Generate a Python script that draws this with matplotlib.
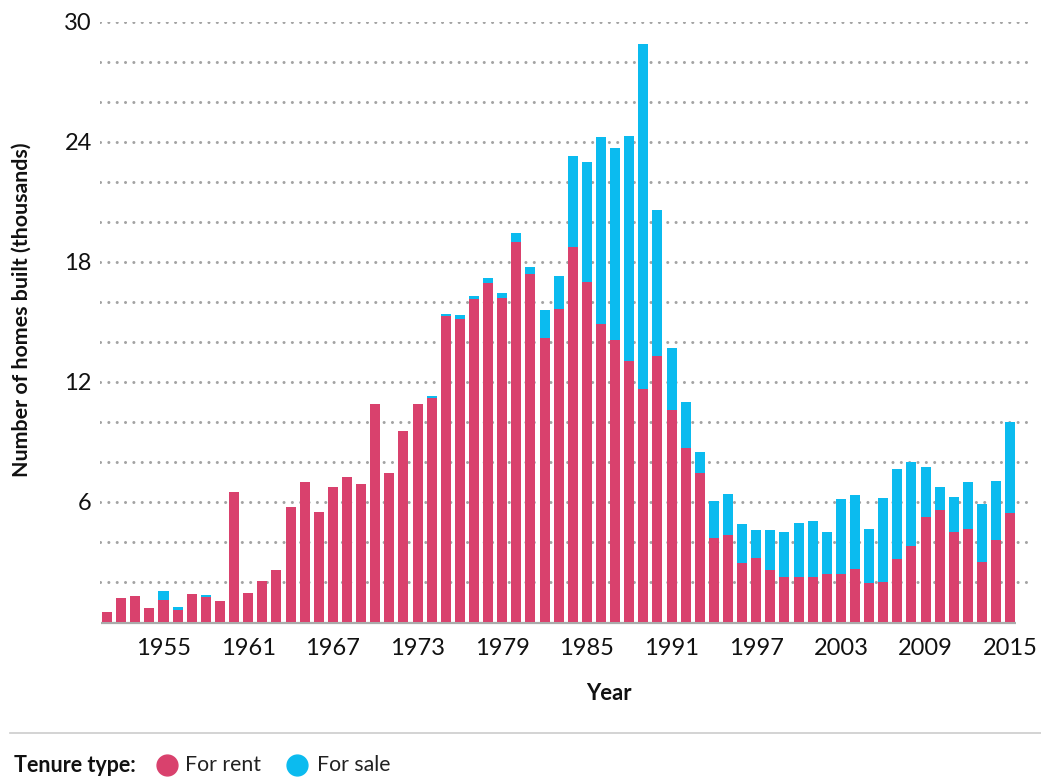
import numpy as np
import matplotlib.pyplot as plt
from matplotlib.lines import Line2D

plt.rcParams["font.family"] = ["Lato", "DejaVu Sans"]

years = np.arange(1951, 2016)

for_rent = [
    0.5, 1.2, 1.3, 0.7, 1.1, 0.6, 1.4, 1.25, 1.05, 6.5,
    1.45, 2.05, 2.6, 5.75, 7.0, 5.5, 6.75, 7.25, 6.9, 10.9,
    7.45, 9.55, 10.9, 11.2, 15.3, 15.15, 16.15, 16.95, 16.2, 19.0,
    17.4, 14.2, 15.65, 18.75, 17.0, 14.9, 14.1, 13.05, 11.65, 13.3,
    10.6, 8.7, 7.45, 4.2, 4.35, 2.95, 3.2, 2.6, 2.25, 2.25,
    2.25, 2.4, 2.4, 2.65, 1.95, 2.0, 3.15, 3.8, 5.25, 5.6,
    4.5, 4.65, 3.0, 4.1, 5.45,
]

for_sale = [
    0, 0, 0, 0, 0.45, 0.12, 0, 0.1, 0, 0,
    0, 0, 0, 0, 0, 0, 0, 0, 0, 0,
    0, 0, 0, 0.1, 0.1, 0.2, 0.15, 0.25, 0.25, 0.45,
    0.35, 1.4, 1.65, 4.55, 6.0, 9.35, 9.6, 11.25, 17.25, 7.3,
    3.1, 2.3, 1.05, 1.85, 2.05, 1.95, 1.4, 2.0, 2.25, 2.7,
    2.8, 2.1, 3.75, 3.7, 2.7, 4.2, 4.5, 4.2, 2.5, 1.15,
    1.75, 2.35, 2.9, 2.95, 4.55,
]

tick_years = list(range(1955, 2016, 6))
y_ticks = [6, 12, 18, 24, 30]

pink = "#D9416D"
blue = "#0BBBEF"

W, H = 1041, 778
fig = plt.figure(figsize=(W / 100, H / 100), dpi=100)
ax = fig.add_axes([100 / W, (H - 621.7) / H, 930 / W, 600 / H])

# dotted grid every 2k
for g in range(2, 31, 2):
    ax.axhline(g, color="#a3a3a3", lw=2.2, ls=(0, (0.01, 2.72)), zorder=0,
               dash_capstyle="round")

ax.bar(years, for_rent, width=0.71, color=pink, zorder=2)
ax.bar(years, for_sale, width=0.71, bottom=for_rent, color=blue, zorder=2)
ax.plot([years[0] - 0.4, years[-1] + 0.4], [-0.07, -0.07], color="#aaaaaa",
        lw=1.6, zorder=1, clip_on=False, solid_capstyle="butt")

ax.set_xlim(1950.5, 2016.4)
ax.set_ylim(0, 30)
ax.set_xticks(tick_years)
ax.set_yticks(y_ticks)
ax.tick_params(axis="x", length=0, pad=12, labelsize=17, labelcolor="#111111")
ax.tick_params(axis="y", length=0, pad=6, labelsize=17, labelcolor="#111111")
for s in ax.spines.values():
    s.set_visible(False)

fig.text(609 / W, 1 - 694 / H, "Year", ha="center", va="center",
         fontsize=15.8, fontweight="bold", color="#111111")
fig.text(22 / W, 1 - 310 / H, "Number of homes built (thousands)",
         rotation=90, ha="center", va="center", fontsize=15.4,
         fontweight="bold", color="#111111")

# legend strip
fig.add_artist(Line2D([10 / W, 1], [1 - 733 / H, 1 - 733 / H],
                      color="#cccccc", lw=1.2))
ly = 1 - 765 / H
fig.text(14 / W, ly, "Tenure type:", ha="left", va="center", fontsize=15.5,
         fontweight="bold", color="#111111")
fig.add_artist(Line2D([167 / W], [ly], marker="o", ms=15, color=pink, lw=0))
fig.text(185 / W, ly, "For rent", ha="left", va="center", fontsize=15.3,
         color="#222222")
fig.add_artist(Line2D([297 / W], [ly], marker="o", ms=15, color=blue, lw=0))
fig.text(317 / W, ly, "For sale", ha="left", va="center", fontsize=15.3,
         color="#222222")

fig.savefig("out.png", dpi=100)
